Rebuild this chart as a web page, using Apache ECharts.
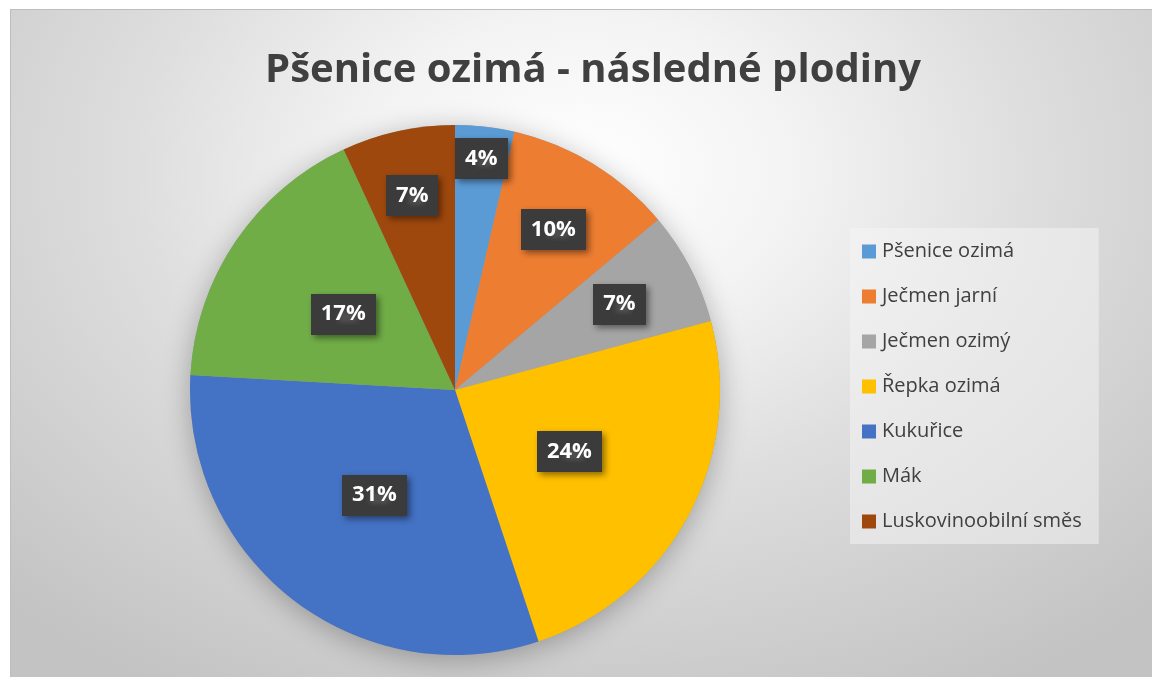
<!DOCTYPE html>
<html>
<head>
<meta charset="utf-8">
<script src="https://cdn.jsdelivr.net/npm/echarts@6/dist/echarts.min.js"></script>
<style>
  html, body { margin: 0; padding: 0; background: #ffffff; }
  #wrap { position: relative; width: 1152px; height: 677px; overflow: hidden; }
  #bg { position: absolute; left: 10px; top: 9px; width: 1142px; height: 668px;
        border-top: 1px solid #bdbdbd; border-left: 1px solid #bdbdbd; box-sizing: border-box;
        background: radial-gradient(ellipse 720px 520px at 50% 24%, #ffffff 0%, #f3f3f3 30%, #dedede 62%, #d2d2d2 85%, #c3c3c3 115%); }
  #chart { position: absolute; left: 0; top: 0; width: 1152px; height: 677px; }
</style>
</head>
<body>
<div id="wrap"><div id="bg"></div><div id="chart"></div></div>
<script>
// ---- data ----
const titleText = 'Pšenice ozimá - následné plodiny';
const categories = ['Pšenice ozimá', 'Ječmen jarní', 'Ječmen ozimý', 'Řepka ozimá', 'Kukuřice', 'Mák', 'Luskovinoobilní směs'];
const values = [3.6, 10.3, 6.9, 24.1, 31.0, 17.2, 6.9];
const labelText = ['4%', '10%', '7%', '24%', '31%', '17%', '7%'];

// ---- style ----
const colors = ['#5B9BD5', '#ED7D31', '#A5A5A5', '#FFC000', '#4472C4', '#70AD47', '#9E480E'];
const labelRadiusFrac = [0.88, 0.71, 0.70, 0.49, 0.50, 0.51, 0.75];
const CX = 455, CY = 390, R = 265;

// dotted dark pattern for data label boxes
const pat = document.createElement('canvas');
pat.width = 7; pat.height = 7;
const pc = pat.getContext('2d');
pc.fillStyle = '#3b3b3b'; pc.fillRect(0, 0, 7, 7);
pc.fillStyle = '#4e4e4e'; pc.fillRect(3, 3, 2, 2);

const total = values.reduce((a, b) => a + b, 0);
function midAngle(i) {
  let c = 0;
  for (let k = 0; k < i; k++) c += values[k];
  return ((c + values[i] / 2) / total) * 2 * Math.PI; // clockwise from north
}

const chart = echarts.init(document.getElementById('chart'), null, { renderer: 'canvas' });
chart.setOption({
  backgroundColor: 'transparent',
  animation: false,
  color: colors,
  title: {
    text: titleText,
    left: 588, top: 66, textAlign: 'center', textVerticalAlign: 'middle',
    textStyle: { fontFamily: 'Open Sans', fontWeight: 'bold', fontSize: 40, color: '#404040' }
  },
  legend: {
    orient: 'vertical',
    left: 850, top: 228,
    padding: [13, 17, 12, 12],
    backgroundColor: 'rgba(246,246,246,0.5)',
    itemWidth: 14, itemHeight: 14, itemGap: 24,
    icon: 'rect',
    data: categories,
    textStyle: { fontFamily: 'Open Sans', fontSize: 20, color: '#404040', lineHeight: 21, padding: [0, 0, 0, 1] }
  },
  series: [
    {
      type: 'pie', silent: true, center: [CX, CY], radius: R,
      label: { show: false }, labelLine: { show: false }, legendHoverLink: false,
      itemStyle: { color: '#9a9a9a', shadowBlur: 28, shadowColor: 'rgba(0,0,0,0.28)', shadowOffsetY: 5 },
      data: [{ value: 1, name: '' }], z: 1, tooltip: { show: false }
    },
    {
      type: 'pie', center: [CX, CY], radius: R, startAngle: 90, clockwise: true,
      z: 2,
      data: categories.map((c, i) => ({ name: c, value: values[i] })),
      labelLine: { show: false },
      label: {
        show: true, position: 'inside',
        formatter: p => labelText[p.dataIndex],
        fontFamily: 'Open Sans', fontWeight: 'bold', fontSize: 22, color: '#ffffff',
        backgroundColor: { image: pat },
        padding: [10, 10, 9, 10],
        shadowColor: 'rgba(0,0,0,0.45)', shadowBlur: 6, shadowOffsetX: 3, shadowOffsetY: 3
      },
      labelLayout: function (p) {
        const a = midAngle(p.dataIndex);
        const r = R * labelRadiusFrac[p.dataIndex];
        return { x: CX + r * Math.sin(a), y: CY - r * Math.cos(a), align: 'center', verticalAlign: 'middle' };
      },
      emphasis: { disabled: true }
    }
  ]
});
</script>
</body>
</html>
